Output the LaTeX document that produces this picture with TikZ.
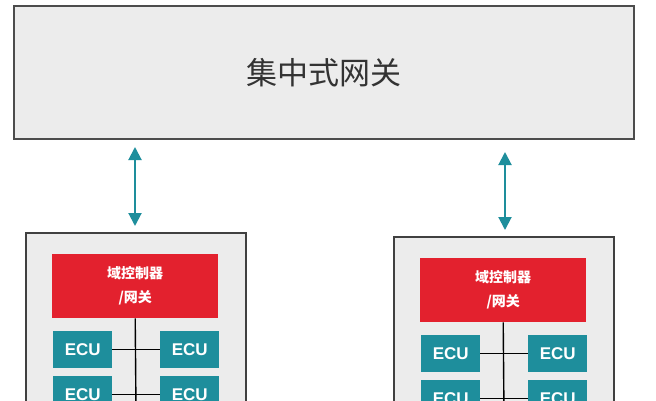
\documentclass[tikz,border=0pt]{standalone}
\usepackage{fontspec}
\usetikzlibrary{arrows.meta}
\setmainfont{Liberation Sans}
\newfontfamily\cjk{Noto Sans CJK SC}
\begin{document}
\begin{tikzpicture}[x=1pt,y=-1pt]
\definecolor{teal1}{HTML}{1E8E9C}
\definecolor{red1}{HTML}{E3212E}
\definecolor{gry}{HTML}{ECECEC}
\tikzset{
 dom/.style={draw=black!75,line width=1.6pt,fill=gry,minimum width=220pt,minimum height=200pt,anchor=north west,inner sep=0},
 ctl/.style={fill=red1,text=white,minimum width=166pt,minimum height=64pt,anchor=north west,font=\cjk\bfseries\fontsize{14}{24}\selectfont,align=center,inner sep=0},
 ecu/.style={fill=teal1,text=white,minimum width=59pt,minimum height=37pt,anchor=north west,font=\bfseries\fontsize{17}{17}\selectfont,inner sep=0},
 arr/.style={teal1,line width=2pt,{Triangle[length=13pt,width=13pt]}-{Triangle[length=13pt,width=13pt]}},
 bus/.style={black,line width=1.4pt}
}
\useasboundingbox (0,0) rectangle (656,400);
\fill[white] (0,0) rectangle (656,400);
\node[draw=black!70,line width=1.6pt,fill=gry,minimum width=620pt,minimum height=133pt,anchor=north west,inner sep=0,font=\cjk\fontsize{31}{31}\selectfont,text=black!80] (cg) at (13,5) {集中式网关};
\foreach \n/\dx/\dy in {L/0/0,R/368/4}{
 \begin{scope}[shift={(\dx,\dy)}]
 \node[dom] (d\n) at (25,232) {};
 \node[ctl] (c\n) at (52,254) {域控制器\\/网关};
 \node[ecu] (e1\n) at (53,331) {ECU};
 \node[ecu] (e2\n) at (160,331) {ECU};
 \node[ecu] (e3\n) at (53,376) {ECU};
 \node[ecu] (e4\n) at (160,376) {ECU};
 \coordinate (b\n) at (136,410);
 \draw[bus] (c\n.south) -- (b\n);
 \draw[bus] (e1\n.east) -- (e2\n.west);
 \draw[bus] (e3\n.east) -- (e4\n.west);
 \end{scope}
}
\coordinate (aL1) at (135,147); \coordinate (aL2) at (135,226);
\coordinate (aR1) at (505,152); \coordinate (aR2) at (505,230);
\draw[arr] (aL1) -- (aL2);
\draw[arr] (aR1) -- (aR2);
\end{tikzpicture}
\end{document}
